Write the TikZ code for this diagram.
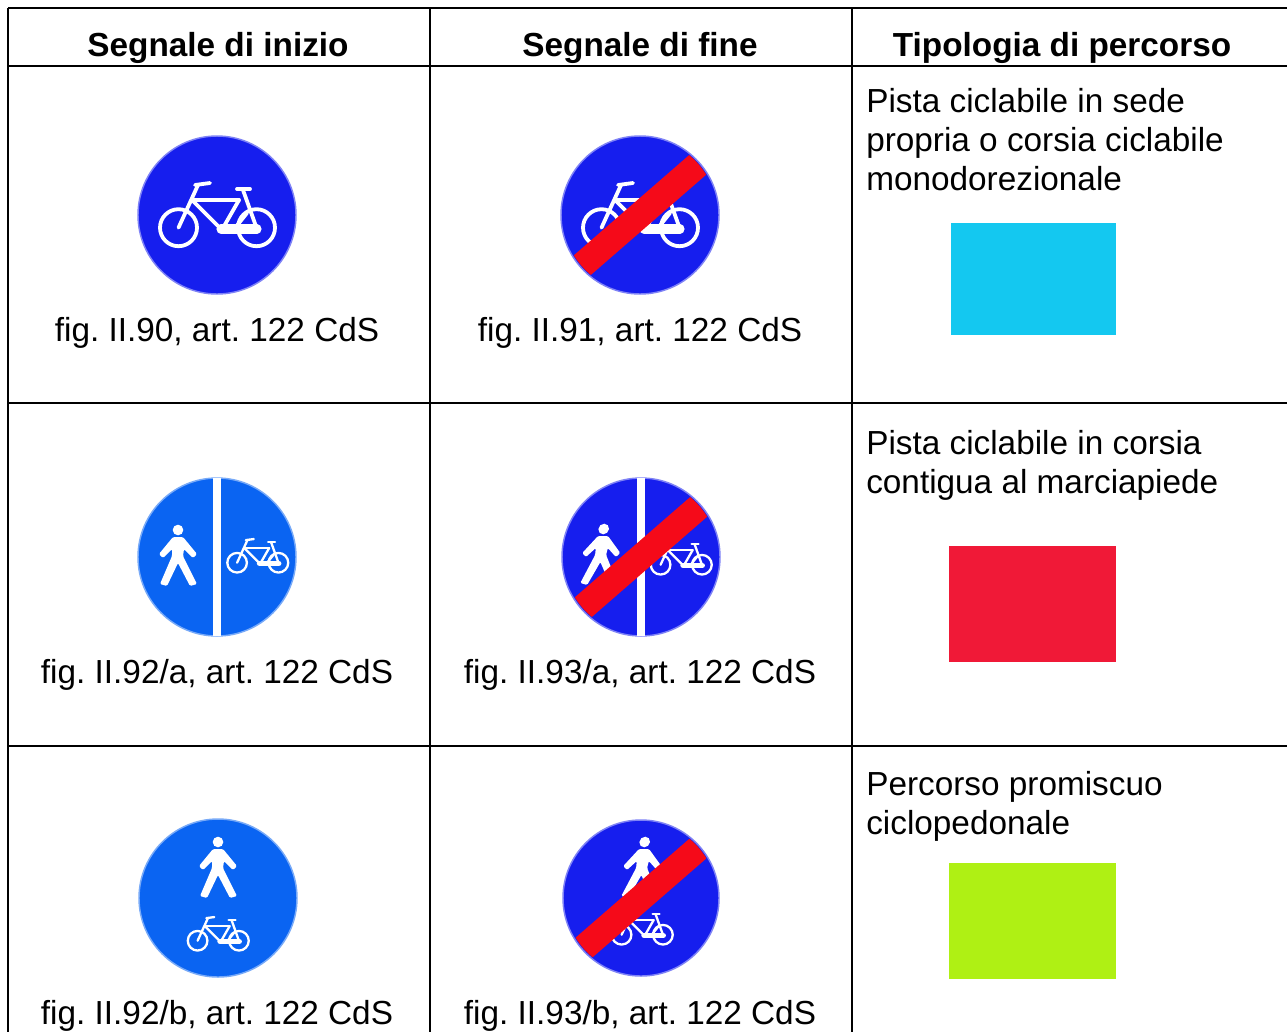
\documentclass[tikz,border=0pt]{standalone}
\usepackage{fontspec}
\setmainfont{Liberation Sans}
\frenchspacing
\usetikzlibrary{calc}
\definecolor{deepblue}{RGB}{22,30,238}
\definecolor{brightblue}{RGB}{10,100,242}
\definecolor{barred}{RGB}{245,10,25}
\definecolor{swcyan}{RGB}{20,200,240}
\definecolor{swred}{RGB}{240,25,55}
\definecolor{swlime}{RGB}{175,240,20}
\newcommand{\bikeat}[4]{% x y scale linewidth(px)
 \begin{scope}[shift={(#1,#2)},x=#3*0.75pt,y=-#3*0.75pt,white,line width=#4*0.75pt,line cap=round,line join=round]
  \draw (-38.5,12.7) circle (18.5);
  \draw (39.5,12.7) circle (18.5);
  \draw (-38.5,12.7) -- (-19,-30);
  \draw (-22,-30) -- (-7,-32);
  \draw (-25,-15) -- (22,-15);
  \draw (-25,-15) -- (3,13);
  \draw (22,-15) -- (6,13);
  \draw (26,-25) -- (39.5,12.7);
  \draw (20,-26) -- (33,-26);
  \draw (30,-2) -- (18,13);
  \draw[line width=2.4*#4*0.75pt] (4,14) -- (40,14);
 \end{scope}}
\newcommand{\walkerat}[4]{% x y scale slant
 \begin{scope}[shift={(#1,#2)},x=#3*0.75pt,y=-#3*0.75pt,xslant=#4,white]
  \fill (0,-27) circle (5.3);
  \fill[rounded corners=1pt] (-5,-20) -- (5,-20) -- (19,-3) -- (15,1) -- (6,-8) -- (5,-1)
    -- (19,27) -- (12,29) -- (0,6) -- (-11,29) -- (-18,27) -- (-6,-1) -- (-6,-8) -- (-15,1) -- (-19,-3) -- cycle;
 \end{scope}}
\newcommand{\barover}[3]{% x y r
 \begin{scope}
  \clip (#1,#2) circle (#3-1.5);
  \draw[barred,line width=19.5pt] ($(#1,#2)+(139:#3+4)$) -- ($(#1,#2)+(-41:#3+4)$);
 \end{scope}}
\tikzset{
 grid/.style={black,line width=1.1pt},
 sign/.style={draw=#1!55!white,line width=1.1pt},
 bodytext/.style={inner sep=0pt,font=\fontsize{25}{29}\selectfont},
 headtext/.style={inner sep=0pt,font=\fontsize{25}{29}\selectfont\bfseries},
 figlabel/.style={bodytext,anchor=base},
 headlabel/.style={headtext,anchor=base},
 desc/.style={bodytext,anchor=north west,align=left},
 swatch/.style={inner sep=0pt,anchor=north west}
}
\begin{document}
\begin{tikzpicture}[x=0.75pt,y=-0.75pt]
\useasboundingbox (0,0) rectangle (1287,1032);
\clip (0,0) rectangle (1287,1032);
\fill[white] (0,0) rectangle (1287,1032);
% table
\draw[grid] (8,8) -- (1287,8);
\draw[grid] (8,66) -- (1287,66);
\draw[grid] (8,403) -- (1287,403);
\draw[grid] (8,746) -- (1287,746);
\draw[grid] (8,8) -- (8,1032);
\draw[grid] (430,8) -- (430,1032);
\draw[grid] (852,8) -- (852,1032);
% headers
\node[headlabel] (h1) at (218,56) {Segnale di inizio};
\node[headlabel] (h2) at (640,56) {Segnale di fine};
\node[headlabel] (h3) at (1062,56) {Tipologia di percorso};
% row 1
\fill[deepblue] (217,215) circle (79);
\draw[sign=deepblue] (217,215) circle (79);
\bikeat{217}{215}{1}{3.8}
\fill[deepblue] (640,215) circle (79);
\draw[sign=deepblue] (640,215) circle (79);
\bikeat{640}{215}{1}{3.8}
\barover{640}{215}{79}
\node[figlabel] (f1) at (217,341) {fig. II.90, art. 122 CdS};
\node[figlabel] (f2) at (640,341) {fig. II.91, art. 122 CdS};
\node[desc] (d1) at (866,88) {Pista ciclabile in sede\\[0.6pt]propria o corsia ciclabile\\monodorezionale};
\node[swatch,fill=swcyan,minimum width=123.75pt,minimum height=84pt] (s1) at (951,223) {};
% row 2
\fill[brightblue] (217,557) circle (79);
\draw[sign=brightblue] (217,557) circle (79);
\fill[white] (213,478) rectangle (221,636);
\walkerat{178}{557}{1}{0}
\bikeat{257.5}{556}{0.53}{2.3}
\fill[deepblue] (641,557) circle (79);
\draw[sign=deepblue] (641,557) circle (79);
\fill[white] (637,478) rectangle (645,636);
\walkerat{601}{556}{1}{0.1}
\bikeat{681}{558}{0.53}{2.3}
\barover{641}{557}{79}
\node[figlabel] (f3) at (217,683) {fig. II.92/a, art. 122 CdS};
\node[figlabel] (f4) at (640,683) {fig. II.93/a, art. 122 CdS};
\node[desc] (d2) at (866,430) {Pista ciclabile in corsia\\contigua al marciapiede};
\node[swatch,fill=swred,minimum width=125pt,minimum height=87pt] (s2) at (949,546) {};
% row 3
\fill[brightblue] (218,898) circle (79);
\draw[sign=brightblue] (218,898) circle (79);
\walkerat{218}{869}{1}{0}
\bikeat{218}{934}{0.53}{2.3}
\fill[deepblue] (641,898) circle (78);
\draw[sign=deepblue] (641,898) circle (78);
\walkerat{642}{869}{1}{0.1}
\bikeat{642}{928}{0.53}{2.3}
\barover{641}{898}{78}
\node[figlabel] (f5) at (217,1024) {fig. II.92/b, art. 122 CdS};
\node[figlabel] (f6) at (640,1024) {fig. II.93/b, art. 122 CdS};
\node[desc] (d3) at (866,771) {Percorso promiscuo\\ciclopedonale};
\node[swatch,fill=swlime,minimum width=125pt,minimum height=86.5pt] (s3) at (949,863) {};
\end{tikzpicture}
\end{document}
